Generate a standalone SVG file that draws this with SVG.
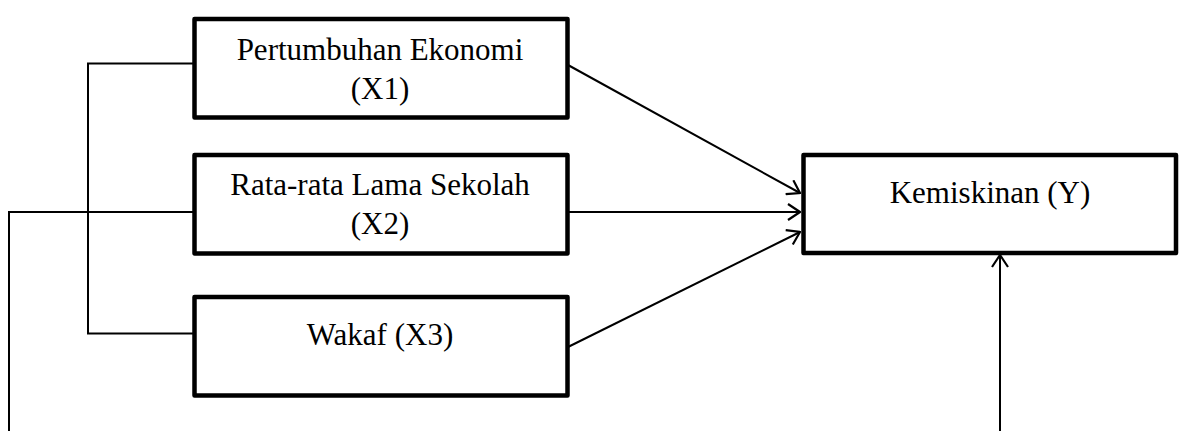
<svg xmlns="http://www.w3.org/2000/svg" width="1182" height="431" viewBox="0 0 1182 431">
<style>
.box{fill:#fff;stroke:#000;stroke-width:4.5;stroke-linejoin:round}
.ln{fill:none;stroke:#000;stroke-width:2}
</style>
<defs>
<marker id="ah" markerUnits="userSpaceOnUse" viewBox="0 0 14 18" refX="13" refY="9" markerWidth="14" markerHeight="18" orient="auto">
<path d="M1,1 L13,9 L1,17" fill="none" stroke="#000" stroke-width="2.2"/>
</marker>
</defs>
<rect width="1182" height="431" fill="#fff"/>
<g id="connectors">
<polyline class="ln" points="194,63.5 88,63.5 88,333.5 194,333.5"/>
<polyline class="ln" points="194,212 9,212 9,431"/>
<line class="ln" x1="568" y1="65" x2="800" y2="193" marker-end="url(#ah)"/>
<line class="ln" x1="568" y1="212" x2="800" y2="212" marker-end="url(#ah)"/>
<line class="ln" x1="568" y1="347" x2="800" y2="232" marker-end="url(#ah)"/>
<line class="ln" x1="1000" y1="431" x2="1000" y2="255" marker-end="url(#ah)"/>
</g>
<g font-family="Liberation Serif, serif" font-size="31" text-anchor="middle" fill="#000">
<g id="x1">
<rect class="box" x="194.5" y="19" width="373" height="98.5"/>
<text x="380" y="60">Pertumbuhan Ekonomi</text>
<text x="380" y="99">(X1)</text>
</g>
<g id="x2">
<rect class="box" x="194.5" y="155" width="373" height="98.5"/>
<text x="380" y="195">Rata-rata Lama Sekolah</text>
<text x="380" y="234">(X2)</text>
</g>
<g id="x3">
<rect class="box" x="194.5" y="297" width="373" height="98.5"/>
<text x="380" y="345">Wakaf (X3)</text>
</g>
<g id="y">
<rect class="box" x="803.5" y="155" width="372.5" height="98"/>
<text x="990" y="203">Kemiskinan (Y)</text>
</g>
</g>
</svg>
